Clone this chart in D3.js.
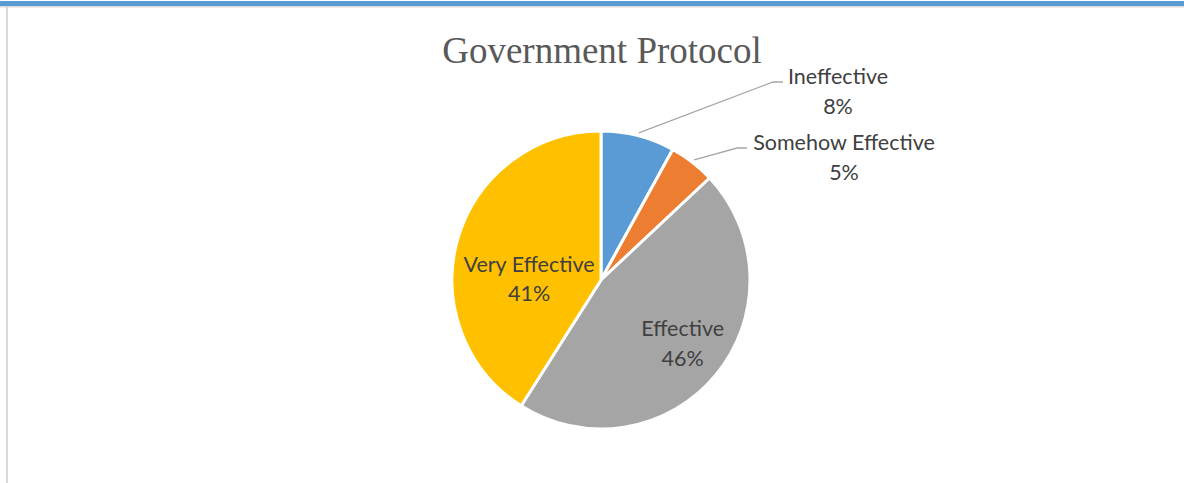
<!DOCTYPE html>
<html>
<head>
<meta charset="utf-8">
<script src="https://cdn.jsdelivr.net/npm/d3@7"></script>
<style>
  body { margin: 0; background: #fff; }
  svg { display: block; }
</style>
</head>
<body>
<div id="chart"></div>
<script>
// data
var categories = ["Ineffective", "Somehow Effective", "Effective", "Very Effective"];
var values = [8, 5, 46, 41];
var colors = ["#5B9BD5", "#ED7D31", "#A5A5A5", "#FFC000"];
var title = "Government Protocol";

var width = 1184, height = 483;
var cx = 601, cy = 280, radius = 149;

var svg = d3.select("#chart").append("svg")
  .attr("width", width)
  .attr("height", height);

// frame: blue band on top, grey rule on the left
svg.append("rect").attr("x", 0).attr("y", 1).attr("width", width).attr("height", 5).attr("fill", "#5B9BD5");
svg.append("rect").attr("x", 0).attr("y", 6).attr("width", width).attr("height", 1.5).attr("fill", "#dcdcdc");
svg.append("rect").attr("x", 6).attr("y", 7).attr("width", 2).attr("height", height - 7).attr("fill", "#d9d9d9");

// title
svg.append("text")
  .attr("x", cx + 1)
  .attr("y", 63)
  .attr("text-anchor", "middle")
  .attr("font-family", "'Liberation Serif', 'Times New Roman', serif")
  .attr("font-size", 37)
  .attr("fill", "#595959")
  .text(title);

var pie = d3.pie().sort(null).value(function(d) { return d; });
var arcs = pie(values);

var arc = d3.arc().innerRadius(0).outerRadius(radius);

var g = svg.append("g")
  .attr("transform", "translate(" + cx + "," + cy + ")");

g.selectAll(".slice")
    .data(arcs)
  .enter().append("path")
    .attr("class", "slice")
    .attr("d", arc)
    .attr("fill", function(d, i) { return colors[i]; })
    .attr("stroke", "#fff")
    .attr("stroke-width", 3)
    .attr("stroke-linejoin", "round");

function midAngle(d) { return (d.startAngle + d.endAngle) / 2; }
function pointAt(a, r) { return [r * Math.sin(a), -r * Math.cos(a)]; }

var labelFont = "Lato, 'Open Sans', sans-serif";
var labelSize = 21.5;
var lineGap = 30;

// label layout: inside labels sit on a radius, outside ones get leader lines
var labelLayout = [
  {outside: true, elbow: [172, -198], textX: 237},
  {outside: true, elbow: [136, -132], textX: 243},
  {outside: false, r: 106, dx: 0, dy: -4},
  {outside: false, r: 72, dx: 0, dy: 2, angle: 272 * Math.PI / 180}
];

arcs.forEach(function(d, i) {
  var lay = labelLayout[i];
  var pct = Math.round(d.data) + "%";
  var x, y;
  if (lay.outside) {
    var start = pointAt(midAngle(d), radius + 3);
    var elbow = lay.elbow;
    g.append("polyline")
      .attr("points", [start, elbow, [elbow[0] + 10, elbow[1]]].map(function(p) { return p.join(","); }).join(" "))
      .attr("fill", "none")
      .attr("stroke", "#A6A6A6")
      .attr("stroke-width", 1.3);
    x = lay.textX;
    y = elbow[1] + 2;
  } else {
    var p = pointAt(lay.angle !== undefined ? lay.angle : midAngle(d), lay.r);
    x = p[0] + lay.dx;
    y = p[1] - 8 + lay.dy;
  }
  var t = g.append("text")
    .attr("text-anchor", "middle")
    .attr("font-family", labelFont)
    .attr("font-size", labelSize)
    .attr("fill", "#404040");
  t.append("tspan").attr("x", x).attr("y", y).text(categories[i]);
  t.append("tspan").attr("x", x).attr("y", y + lineGap).text(pct);
});
</script>
</body>
</html>
